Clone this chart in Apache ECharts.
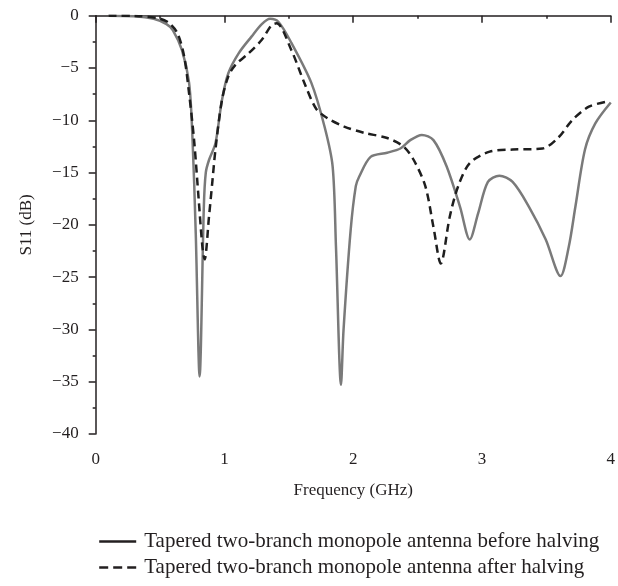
<!DOCTYPE html>
<html>
<head>
<meta charset="utf-8">
<script src="https://cdn.jsdelivr.net/npm/echarts@6/dist/echarts.min.js"></script>
<style>
  html, body { margin: 0; padding: 0; background: #fff; }
  #chart { width: 618px; height: 586px; }
</style>
</head>
<body>
<div id="chart"></div>
<script>
// Frequency sweep (GHz) and S11 (dB) for both antenna versions
const freqBefore = [0.1, 0.3, 0.45, 0.55, 0.6, 0.67, 0.725, 0.75, 0.777, 0.807, 0.84, 0.855, 0.88, 0.93, 0.98, 1.03, 1.11, 1.21, 1.29, 1.355, 1.42, 1.52, 1.674, 1.777, 1.84, 1.866, 1.905, 1.925, 1.98, 2.02, 2.046, 2.135, 2.264, 2.366, 2.443, 2.533, 2.623, 2.725, 2.83, 2.905, 2.97, 3.046, 3.135, 3.238, 3.366, 3.495, 3.61, 3.674, 3.725, 3.8, 3.88, 4.0];
const s11Before = [0, -0.05, -0.3, -0.8, -1.4, -3.3, -6.4, -11.2, -20.8, -34.5, -18.2, -15.0, -13.8, -12.2, -8.1, -5.5, -3.6, -2.0, -0.8, -0.3, -0.6, -2.6, -6.4, -10.6, -14.4, -22.1, -35.3, -30, -20.5, -16.3, -15.4, -13.5, -13.1, -12.7, -11.9, -11.4, -11.9, -14.4, -18.3, -21.4, -18.9, -15.9, -15.3, -15.9, -18.3, -21.4, -24.9, -22.1, -18.3, -12.8, -10.3, -8.3];

const freqAfter = [0.1, 0.3, 0.49, 0.57, 0.636, 0.687, 0.725, 0.764, 0.8, 0.828, 0.846, 0.88, 0.905, 0.93, 0.98, 1.03, 1.085, 1.187, 1.29, 1.366, 1.405, 1.52, 1.623, 1.712, 1.8, 1.93, 2.085, 2.264, 2.39, 2.47, 2.56, 2.623, 2.68, 2.75, 2.815, 2.905, 3.06, 3.238, 3.47, 3.597, 3.7, 3.83, 3.98];
const s11After = [0, -0.02, -0.25, -0.7, -1.7, -3.9, -7.4, -11.9, -17.6, -22, -23.3, -19.2, -16.0, -12.8, -8.1, -5.8, -4.7, -3.6, -2.3, -0.9, -0.73, -3.3, -6.5, -8.9, -9.8, -10.6, -11.2, -11.7, -12.5, -13.8, -16.3, -20.2, -23.7, -19.2, -16.3, -14.1, -13.0, -12.8, -12.7, -11.6, -10.0, -8.7, -8.2];

const seriesNames = [
  'Tapered two-branch monopole antenna before halving',
  'Tapered two-branch monopole antenna after halving'
];

const xName = 'Frequency (GHz)';
const yName = 'S11 (dB)';

const pair = (xs, ys) => xs.map((x, i) => [x, ys[i]]);

const FONT = '"Liberation Serif", "DejaVu Serif", serif';
const TEXT = '#231f20';

const chart = echarts.init(document.getElementById('chart'), null, { renderer: 'canvas' });
chart.setOption({
  animation: false,
  backgroundColor: '#fff',
  grid: { left: 95.7, right: 2.3, top: 15.7, bottom: 152, containLabel: false },
  legend: {
    orient: 'vertical',
    left: 93,
    top: 526,
    itemWidth: 37,
    itemHeight: 14,
    itemGap: 5,
    textStyle: { fontFamily: FONT, fontSize: 21, color: TEXT, padding: [0, 0, 0, 3] },
    data: [
      {
        name: seriesNames[0],
        itemStyle: { opacity: 0 },
        lineStyle: { color: '#231f20', width: 2.4, type: 'solid' }
      },
      {
        name: seriesNames[1],
        itemStyle: { opacity: 0 },
        lineStyle: { color: '#231f20', width: 2.4, type: [9, 5] }
      }
    ]
  },
  xAxis: {
    type: 'value',
    min: 0, max: 4, interval: 1,
    name: xName,
    nameLocation: 'middle',
    nameGap: 48,
    nameTextStyle: { fontFamily: FONT, fontSize: 17, color: TEXT },
    axisLine: { lineStyle: { color: '#231f20', width: 1.5 } },
    axisTick: { show: true, inside: false, length: 7, lineStyle: { color: '#231f20', width: 1.5 } },
    minorTick: { show: true, splitNumber: 2, length: 3, lineStyle: { color: '#231f20', width: 1.5 } },
    splitLine: { show: false },
    axisLabel: { fontFamily: FONT, fontSize: 17, color: TEXT, margin: 17 }
  },
  yAxis: {
    type: 'value',
    min: -40, max: 0, interval: 5,
    name: yName,
    nameLocation: 'middle',
    nameGap: 61,
    nameRotate: 90,
    nameTextStyle: { fontFamily: FONT, fontSize: 17, color: TEXT },
    axisLine: { show: true, lineStyle: { color: '#231f20', width: 1.5 } },
    axisTick: { show: true, inside: false, length: 7, lineStyle: { color: '#231f20', width: 1.5 } },
    minorTick: { show: true, splitNumber: 2, length: 3, lineStyle: { color: '#231f20', width: 1.5 } },
    splitLine: { show: false },
    axisLabel: {
      fontFamily: FONT, fontSize: 17, color: TEXT, margin: 17,
      formatter: v => String(v).replace('-', '\u2212')
    }
  },
  series: [
    {
      name: seriesNames[0],
      type: 'line',
      data: pair(freqBefore, s11Before),
      symbol: 'none',
      smooth: 0.3,
      lineStyle: { color: '#7a7a7a', width: 2.5, type: 'solid' },
      itemStyle: { color: '#7a7a7a' },
      z: 2
    },
    {
      name: seriesNames[1],
      type: 'line',
      data: pair(freqAfter, s11After),
      symbol: 'none',
      smooth: 0.3,
      lineStyle: { color: '#1e1e1e', width: 2.5, type: [8, 5] },
      itemStyle: { color: '#1e1e1e' },
      z: 3
    }
  ]
});
</script>
</body>
</html>
